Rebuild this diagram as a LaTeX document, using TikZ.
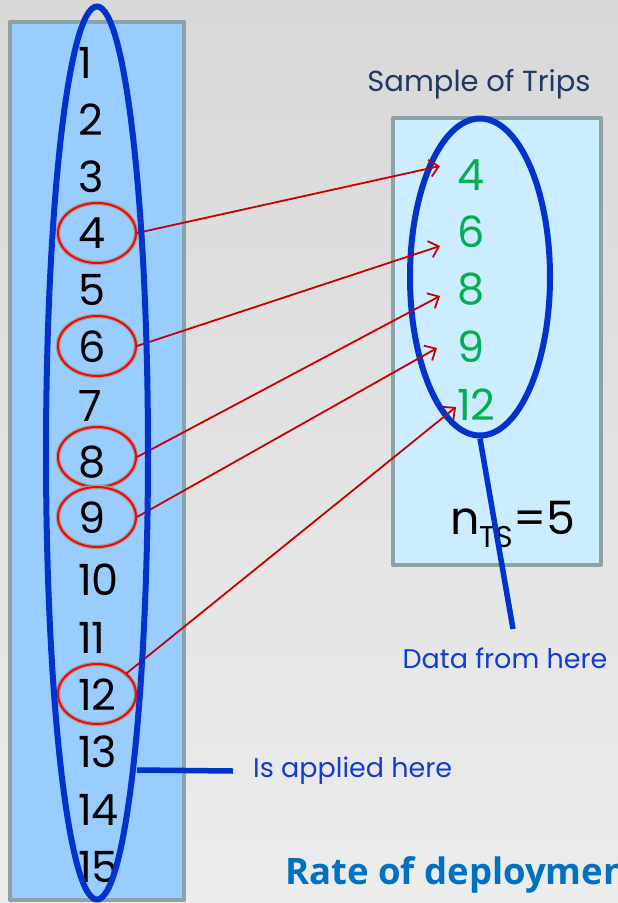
\documentclass[tikz,border=0pt]{standalone}
\usepackage{fontspec}
\setmainfont{Poppins}
\newfontfamily\headfont{Open Sans}
\usetikzlibrary{shapes.geometric,arrows.meta}
\definecolor{bgtop}{RGB}{216,216,216}
\definecolor{bgbot}{RGB}{236,236,236}
\definecolor{boxedge}{RGB}{140,162,166}
\definecolor{tripfill}{RGB}{153,204,255}
\definecolor{samplefill}{RGB}{204,236,255}
\definecolor{ringblue}{RGB}{0,51,204}
\definecolor{pickred}{RGB}{200,0,0}
\definecolor{ringred}{RGB}{255,0,0}
\definecolor{halo}{RGB}{150,165,165}
\definecolor{pickgreen}{RGB}{0,176,80}
\definecolor{navy}{RGB}{31,56,100}
\definecolor{labelblue}{RGB}{20,60,210}
\definecolor{titleblue}{RGB}{0,112,192}
\begin{document}
\begin{tikzpicture}[x=1pt,y=-1pt,
  panel/.style={draw=boxedge,line width=4.5pt,line join=round},
  num/.style={anchor=west,inner sep=0pt,text=black,font=\fontsize{43}{43}\selectfont},
  pick/.style={anchor=west,inner sep=0pt,text=pickgreen,font=\fontsize{43}{43}\selectfont},
  pickring/.style={ellipse,inner sep=0pt,minimum width=78pt,minimum height=60pt,
    draw=ringred,line width=2pt,preaction={draw=halo,line width=4.5pt}},
  bigring/.style={ellipse,inner sep=0pt,draw=ringblue,line width=6pt},
  ringline/.style={draw=ringblue,line width=5.5pt},
  pickarrow/.style={draw=pickred,line width=1.8pt,-{Straight Barb[length=9pt,width=17pt]}},
  label/.style={text=labelblue,inner sep=0pt,font=\fontsize{27}{27}\selectfont}]
\useasboundingbox (0,0) rectangle (618,903);
\clip (0,0) rectangle (618,903);
\shade[top color=bgtop,bottom color=bgbot] (0,0) rectangle (618,903);

% the two panels
\draw[panel,fill=tripfill] (10,22) rectangle (184,900);
\draw[panel,fill=samplefill] (393,118) rectangle (601,565);
\node[text=navy,font=\fontsize{29}{29}\selectfont] (title) at (479,84) {Sample of Trips};

% all trips, with the sampled ones ringed
\foreach \y/\k in {233/4,346/6,457/8,517/9,694/12}
  \node[pickring] (c\k) at (97,\y) {};
\foreach \k/\y in {1/63,2/120,3/177,4/233,5/290,6/347,7/406,8/462,9/518,10/580,11/638,12/695,13/752,14/810,15/867}
  \node[num] (n\k) at (78,\y) {\k};

% the sample
\node[bigring,minimum width=140pt,minimum height=317pt] (sel) at (480,277) {};
\foreach \k/\y in {4/175,6/232,8/289,9/347,12/405}
  \node[pick] (g\k) at (457,\y) {\k};
\node[inner sep=0pt,font=\fontsize{46}{46}\selectfont] (count) at (513,524)
  {n\raisebox{-13pt}{\fontsize{30}{30}\selectfont TS}=5};

% selections
\coordinate (t4) at (440,166);
\coordinate (t6) at (440,246);
\coordinate (t8) at (440,296);
\coordinate (t9) at (437,348);
\coordinate (t12) at (456,407);
\draw[pickarrow] (c4.east) -- (t4);
\draw[pickarrow] (c6.east) -- (t6);
\draw[pickarrow] (c8.east) -- (t8);
\draw[pickarrow] (c9.east) -- (t9);
\draw[pickarrow] (c12.35) -- (t12);

% population ring
\node[bigring,minimum width=102pt,minimum height=893pt] (trips) at (97,453) {};

% callouts
\coordinate (foot) at (137,770);
\node[label,anchor=west] (applied) at (253,771) {Is applied here};
\draw[ringline] (foot) -- ([xshift=-20pt]applied.west);
\node[label] (data) at (505,658) {Data from here};
\coordinate (dataend) at (513,629);
\draw[ringline] (sel.south) -- (dataend);

\node[anchor=base west,inner sep=0pt,text=titleblue,font=\headfont\bfseries\fontsize{36.5}{36.5}\selectfont] (rate) at (285,884) {Rate of deployment};
\end{tikzpicture}
\end{document}
